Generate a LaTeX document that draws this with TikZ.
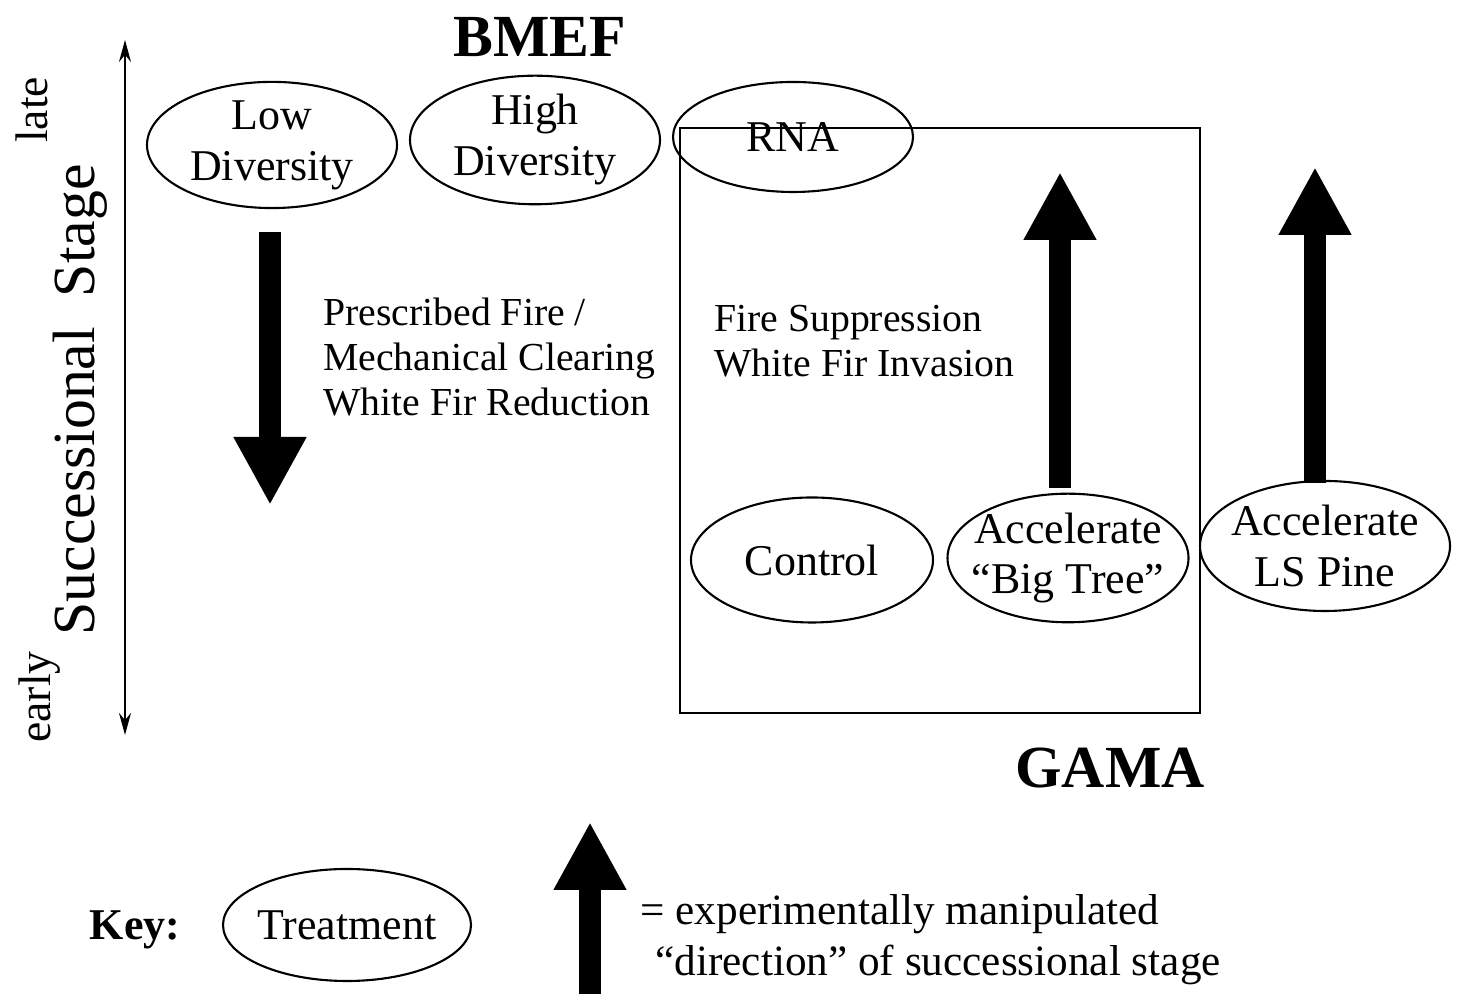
\documentclass[tikz,border=0pt]{standalone}
\usepackage{fontspec}
\setmainfont{Liberation Serif}
\usepackage{tikz}
\usetikzlibrary{shapes.geometric,arrows.meta,positioning}

\begin{document}
\begin{tikzpicture}[
    treat/.style={draw, ellipse, line width=0.6pt, minimum width=2.45cm, minimum height=1.15cm, inner xsep=-1cm, inner ysep=0pt, align=center, font=\fontsize{12.5}{14.5}\selectfont},
    bigarrow/.style={line width=0.22cm, -{Triangle[width=0.68cm, length=0.68cm]}},
    note/.style={anchor=west, align=left, font=\fontsize{11.3}{12.9}\selectfont},
    site/.style={font=\fontsize{17}{20}\selectfont\bfseries}
]
    \useasboundingbox (0,0) rectangle (14.61,9.94);

    \node[site] (bmef) at (5.40,9.57) {BMEF};
    \node[site] (gama) at (11.10,2.26) {GAMA};

    % successional axis
    \coordinate (axtop) at (1.25,9.54);
    \coordinate (axbot) at (1.25,2.59);
    \draw[line width=0.6pt, {Stealth[length=0.22cm, width=0.12cm]}-{Stealth[length=0.22cm, width=0.12cm]}] (axtop) -- (axbot);
    \node[rotate=90, font=\fontsize{17}{20}\selectfont] (stage) at (0.80,5.94) {Successional\ \ Stage};
    \node[rotate=90, font=\fontsize{13}{15}\selectfont] (late) at (0.32,8.84) {late};
    \node[rotate=90, font=\fontsize{13}{15}\selectfont] (early) at (0.40,2.97) {early};

    % treatments
    \node[treat, minimum width=2.5cm] (lowdiv) at (2.72,8.49) {Low\\Diversity};
    \node[treat, minimum width=2.5cm] (highdiv) at (5.35,8.54) {High\\Diversity};
    \node[treat, minimum width=2.4cm, minimum height=1.1cm] (rna) at (7.93,8.57) {RNA};
    \node[treat, minimum width=2.42cm, minimum height=1.25cm] (control) at (8.12,4.34) {Control};
    \node[treat, minimum width=2.41cm, minimum height=1.2cm] (bigtree) at (10.68,4.36) {Accelerate\\“Big Tree”};
    \node[treat, minimum width=2.5cm, minimum height=1.3cm] (lspine) at (13.25,4.48) {Accelerate\\LS Pine};

    \draw[line width=0.6pt] (6.80,8.66) rectangle (12.00,2.81);

    \node[note] (burn) at (3.11,6.37) {Prescribed Fire /\\Mechanical Clearing\\White Fir Reduction};
    \node[note] (suppress) at (7.02,6.53) {Fire Suppression\\White Fir Invasion};

    % manipulated directions
    \coordinate (downA) at (2.70,7.62);
    \coordinate (downB) at (2.70,4.89);
    \coordinate (upA) at (10.60,5.06);
    \coordinate (upB) at (10.60,8.22);
    \coordinate (upC) at (13.15,5.11);
    \coordinate (upD) at (13.15,8.27);
    \draw[bigarrow] (downA) -- (downB);
    \draw[bigarrow] (upA) -- (upB);
    \draw[bigarrow] (upC) -- (upD);

    % key
    \node[font=\fontsize{12.5}{14.5}\selectfont\bfseries] (key) at (1.35,0.64) {Key:};
    \node[treat, minimum width=2.48cm, minimum height=1.12cm] (keytreat) at (3.47,0.69) {Treatment};
    \coordinate (keyA) at (5.90,0.0);
    \coordinate (keyB) at (5.90,1.72);
    \draw[bigarrow] (keyA) -- (keyB);
    \node[anchor=west, align=left, font=\fontsize{12.3}{14.5}\selectfont] (keytext) at (6.28,0.54) {= experimentally manipulated\\\hspace{0.15cm}“direction” of successional stage};
\end{tikzpicture}
\end{document}
